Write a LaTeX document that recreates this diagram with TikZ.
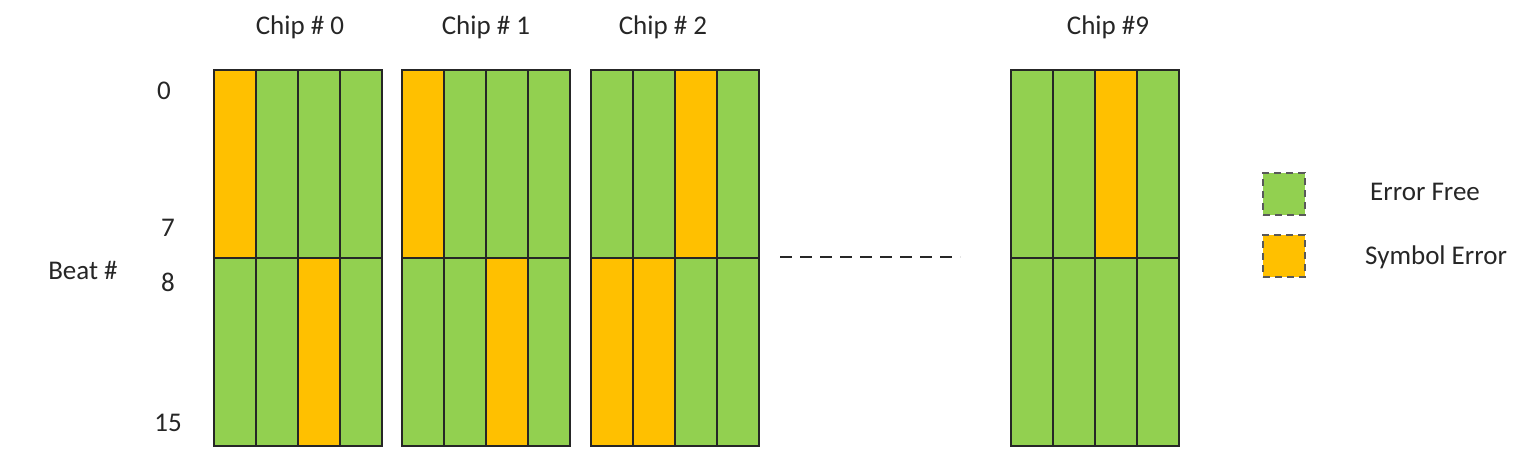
\documentclass[tikz,border=0pt]{standalone}
\usepackage{fontspec}
\setmainfont{Carlito}
\definecolor{okgreen}{HTML}{92D050}
\definecolor{errorange}{HTML}{FFC000}
\definecolor{txtgray}{HTML}{262626}
\begin{document}
\begin{tikzpicture}[x=1pt,y=-1pt,
  cell/.style={draw=black!85, line width=1.6pt, inner sep=0pt, minimum width=42pt, minimum height=188pt, anchor=north west},
  okcell/.style={cell, fill=okgreen},
  errcell/.style={cell, fill=errorange},
  lbl/.style={font=\fontsize{27}{32}\selectfont, text=txtgray, inner sep=0pt},
  legbox/.style={draw=black!65, dashed, dash pattern=on 7pt off 5pt, line width=1.6pt, minimum width=42pt, minimum height=42pt, inner sep=0pt}
]
\useasboundingbox (0,0) rectangle (1532,451);
\foreach \cx/\name/\pat in {213/a/{1,0,0,0,0,0,1,0}, 401/b/{1,0,0,0,0,0,1,0}, 590/c/{0,0,1,0,1,1,0,0}, 1010/d/{0,0,1,0,0,0,0,0}}{
  \foreach \v [count=\i from 0] in \pat {
    \pgfmathtruncatemacro{\col}{mod(\i,4)}
    \pgfmathtruncatemacro{\row}{int(\i/4)}
    \ifnum\v=1
      \node[errcell] (\name-\row-\col) at ({\cx+42*\col},{69+188*\row}) {};
    \else
      \node[okcell] (\name-\row-\col) at ({\cx+42*\col},{69+188*\row}) {};
    \fi
  }
}
% chip titles
\node[lbl] (t0) at (300,27) {Chip \# 0};
\node[lbl] (t1) at (486,27) {Chip \# 1};
\node[lbl] (t2) at (663,27) {Chip \# 2};
\node[lbl] (t9) at (1108,27) {Chip \#9};
% beat labels
\node[lbl] (b0) at (164,91) {0};
\node[lbl] (b7) at (168,228) {7};
\node[lbl] (b8) at (168,282) {8};
\node[lbl] (b15) at (168,423) {15};
\node[lbl] (beat) at (83,270) {Beat \#};
% dashed ellipsis line
\coordinate (dl) at (780,257);
\coordinate (dr) at (960,257);
\draw[line width=1.6pt, black!85, dash pattern=on 12pt off 8pt] (dl) -- (dr);
% legend
\node[legbox, fill=okgreen] (lg) at (1284,194) {};
\node[legbox, fill=errorange] (lo) at (1284,256) {};
\node[lbl, anchor=west] (lgt) at (1370,192) {Error Free};
\node[lbl, anchor=west] (lot) at (1365,257) {Symbol Error};
\end{tikzpicture}
\end{document}
